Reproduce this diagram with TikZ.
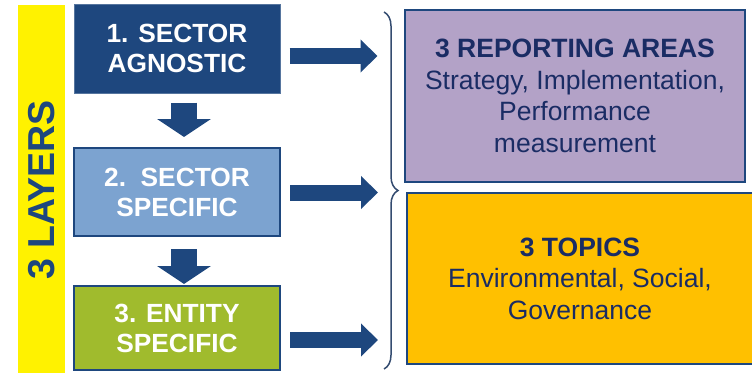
\documentclass[tikz,border=0pt]{standalone}
\usepackage{fontspec}
\setmainfont{Liberation Sans}
\usetikzlibrary{arrows.meta,decorations.pathreplacing}
\definecolor{layerblue}{RGB}{30,71,126}
\definecolor{sectorblue}{RGB}{124,163,208}
\definecolor{entitygreen}{RGB}{160,187,45}
\definecolor{areapurple}{RGB}{179,162,199}
\definecolor{topicorange}{RGB}{255,192,0}
\definecolor{navytext}{RGB}{26,44,100}
\definecolor{bracegray}{RGB}{52,76,112}

\begin{document}
\begin{tikzpicture}[x=1pt,y=-1pt,
		layer/.style={draw=layerblue,line width=2pt,minimum width=206pt,inner sep=0pt,align=center,text=white,font=\fontsize{26.3}{30}\selectfont\bfseries},
		area/.style={draw=layerblue,line width=2pt,inner sep=0pt,align=center,text=navytext,font=\fontsize{26.5}{31.5}\selectfont},
		downarrow/.style={layerblue,line width=26pt,-{Triangle[length=18pt,width=53pt]}},
		rightarrow/.style={layerblue,line width=16pt,-{Triangle[length=17pt,width=32pt]}}]
		\useasboundingbox (0,0) rectangle (752,372);
		%%yellow bar
		\node[fill=yellow,minimum width=47pt,minimum height=368pt,inner sep=0pt] (bar) at (41.5,189) {};
		\node[rotate=90,text=layerblue,font=\fontsize{37.5}{37.5}\selectfont\bfseries] (layers) at (41.5,190) {3 LAYERS};
		%%layers
		\node[layer,fill=layerblue,draw=layerblue!75!white,line width=1pt,minimum height=89pt] (sect1) at (177,48.5) {1. SECTOR\\AGNOSTIC};
		\node[layer,fill=sectorblue,minimum height=88pt] (sect2) at (177,192) {2.\ \ SECTOR\\SPECIFIC};
		\node[layer,fill=entitygreen,minimum height=84pt] (sect3) at (177,328) {3. ENTITY\\SPECIFIC};
		\draw[downarrow] ([xshift=7pt,yshift=-9pt]sect1.south) -- ([xshift=7pt,yshift=10pt]sect2.north);
		\draw[downarrow] ([xshift=7pt,yshift=-12pt]sect2.south) -- ([xshift=7pt,yshift=1pt]sect3.north);
		%%right side
		\node[area,fill=areapurple,minimum width=340pt,minimum height=172pt] (areas) at (575,96) {\textbf{3 REPORTING AREAS}\\Strategy, Implementation,\\Performance\\measurement};
		\node[area,fill=topicorange,minimum width=346pt,minimum height=171pt] (topics) at (580,278.5) {\textbf{3 TOPICS}\\Environmental, Social,\\Governance};
		%%brace
		\coordinate (bracetop) at (384,12);
		\coordinate (bracebot) at (384,369);
		\draw[bracegray,line width=1.5pt,decorate,decoration={brace,amplitude=14pt}] (bracetop) -- (bracebot);
		%%arrows
		\draw[rightarrow] ([xshift=9pt,yshift=-7.5pt]sect1.east) -- ++(88,0);
		\draw[rightarrow] ([xshift=9pt,yshift=-0.5pt]sect2.east) -- ++(88,0);
		\draw[rightarrow] ([xshift=9pt,yshift=-12pt]sect3.east) -- ++(88,0);
	\end{tikzpicture}
\end{document}
